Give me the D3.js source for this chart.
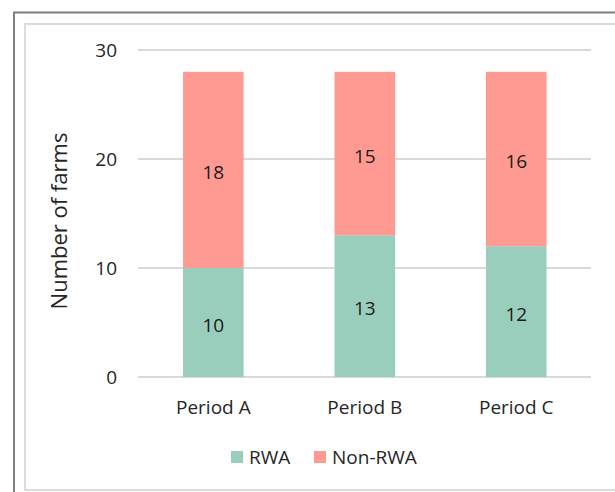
<!DOCTYPE html>
<html><head><meta charset="utf-8">
<script src="https://cdn.jsdelivr.net/npm/d3@7"></script>
<style>body{margin:0;background:#fff}svg{display:block}</style>
</head><body><svg id="c" width="615" height="492"></svg>
<script>
const categories = ["Period A", "Period B", "Period C"];
const rwa = [10, 13, 12];
const nonRwa = [18, 15, 16];
const seriesNames = ["RWA", "Non-RWA"];
const colors = ["#99CEBD", "#FF9A92"];
const yTicks = [0, 10, 20, 30];

const svg = d3.select("#c");
const font = "'Open Sans', 'Noto Sans', sans-serif";
const fs = 19;

// frames
svg.append("rect").attr("x", 14).attr("y", 12.5).attr("width", 700).attr("height", 600)
  .attr("fill", "none").attr("stroke", "#7f7f7f").attr("stroke-width", 2);
svg.append("rect").attr("x", 25).attr("y", 24).attr("width", 700).attr("height", 466)
  .attr("fill", "#fff").attr("stroke", "#dcdcdc").attr("stroke-width", 2);

const x = d3.scaleBand().domain(categories).range([137.6, 592]).paddingInner(0.6).paddingOuter(0.3);
const y = d3.scaleLinear().domain([0, 30]).range([377, 50]);

// y axis labels
const yAxis = d3.axisLeft(y).tickValues(yTicks).tickSize(0).tickPadding(21);
const gy = svg.append("g").attr("transform", "translate(138,0)").call(yAxis);
gy.select(".domain").remove();
gy.selectAll("text").attr("font-family", font).attr("font-size", fs).attr("fill", "#262626");

// gridlines
svg.append("g").selectAll("line").data(yTicks).join("line")
  .attr("x1", 138).attr("x2", 591).attr("y1", d => y(d)).attr("y2", d => y(d))
  .attr("stroke", "#d9d9d9").attr("stroke-width", 2);

const data = categories.map((c, i) => ({cat: c, RWA: rwa[i], "Non-RWA": nonRwa[i]}));
const stack = d3.stack().keys(seriesNames)(data);

const groups = svg.append("g").selectAll("g").data(stack).join("g").attr("fill", (d, i) => colors[i]);
groups.selectAll("rect").data(d => d).join("rect")
  .attr("x", d => x(d.data.cat)).attr("width", x.bandwidth())
  .attr("y", d => y(d[1])).attr("height", d => y(d[0]) - y(d[1]));

// labels
const lbl = svg.append("g");
stack.forEach(s => {
  s.forEach(d => {
    lbl.append("text").attr("x", x(d.data.cat) + x.bandwidth() / 2)
      .attr("y", (y(d[0]) + y(d[1])) / 2 + 2)
      .attr("text-anchor", "middle").attr("dominant-baseline", "central")
      .attr("font-family", font).attr("font-size", fs).attr("fill", "#1a1a1a")
      .text(d[1] - d[0]);
  });
});

// x axis labels
const xAxis = d3.axisBottom(x).tickSize(0).tickPadding(24);
const gx = svg.append("g").attr("transform", "translate(0,377)").call(xAxis);
gx.select(".domain").remove();
gx.selectAll("text").attr("font-family", font).attr("font-size", fs).attr("fill", "#262626");

// y title
svg.append("text").attr("transform", "translate(58,221) rotate(-90)")
  .attr("text-anchor", "middle").attr("dominant-baseline", "central")
  .attr("font-family", font).attr("font-size", 22).attr("fill", "#262626")
  .text("Number of farms");

// legend
const legX = [231, 314];
const leg = svg.append("g");
seriesNames.forEach((n, i) => {
  leg.append("rect").attr("x", legX[i]).attr("y", 451).attr("width", 12).attr("height", 12).attr("fill", colors[i]);
  leg.append("text").attr("x", legX[i] + 18).attr("y", 457).attr("dominant-baseline", "central")
    .attr("font-family", font).attr("font-size", fs).attr("fill", "#262626").text(n);
});
</script></body></html>
